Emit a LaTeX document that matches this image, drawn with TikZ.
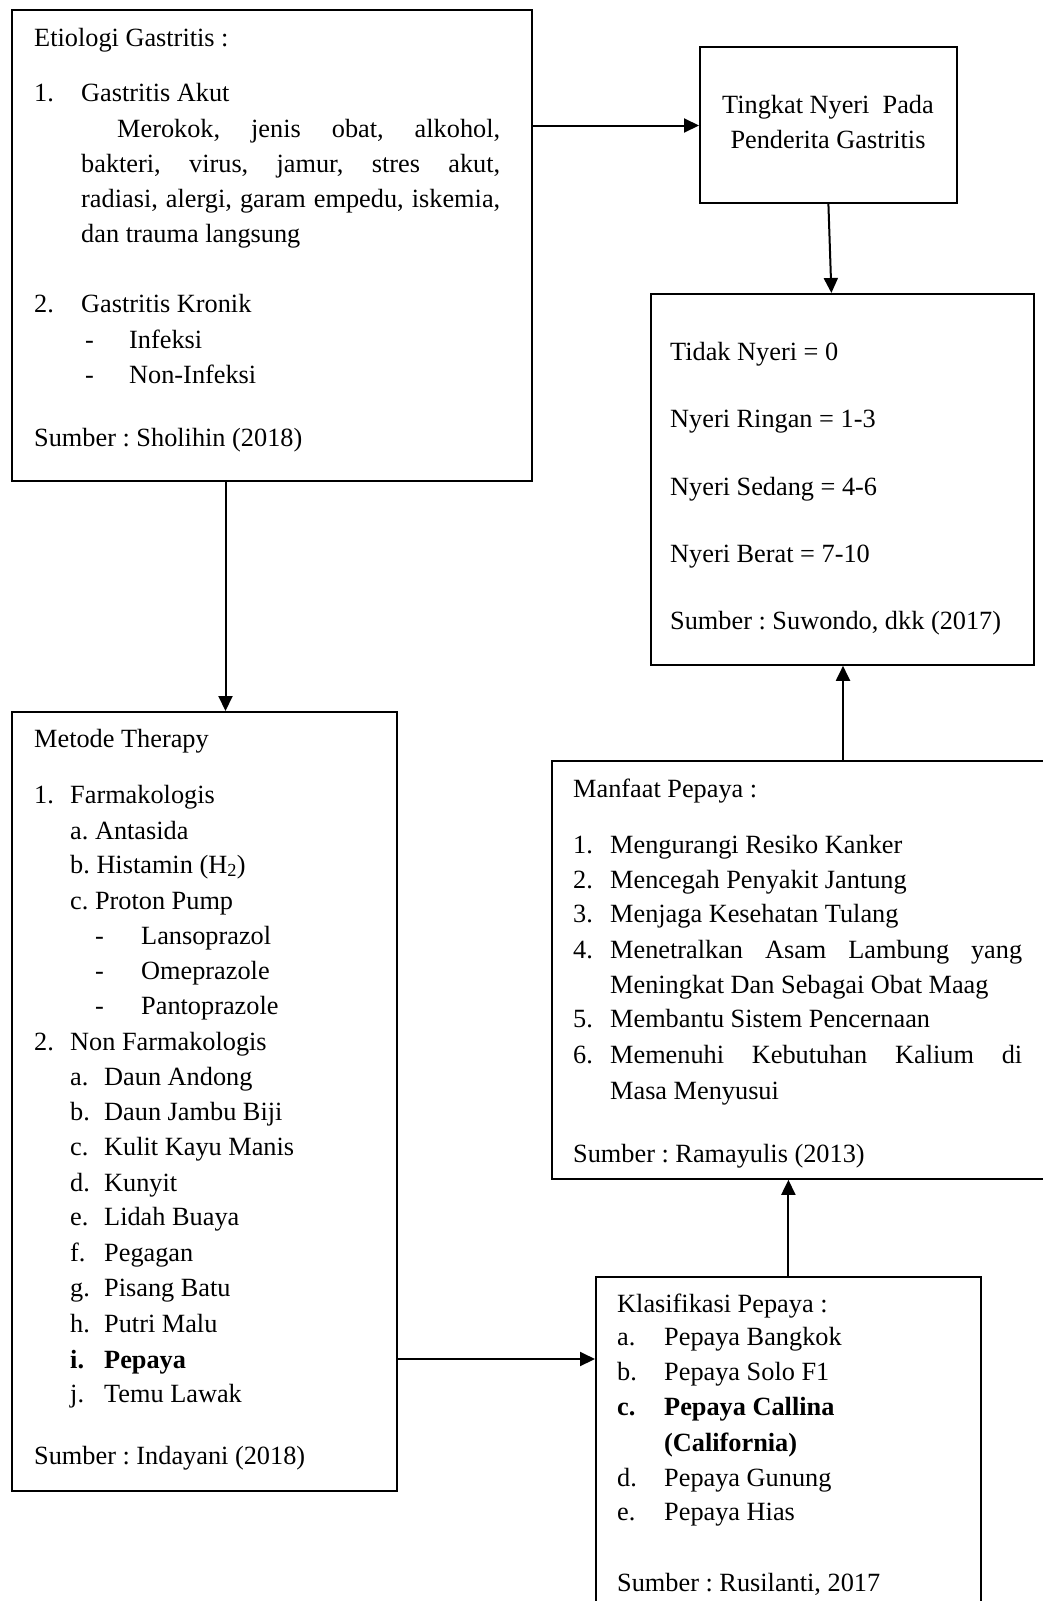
\documentclass[tikz,border=0pt]{standalone}
\usepackage{fontspec}
\setmainfont{Liberation Serif}
\usetikzlibrary{arrows.meta}
\frenchspacing
\newcommand\Ln[4]{\node[txt] (#1) at (#2,#3) {#4};}
\newcommand\Lc[4]{\node[txtc] (#1) at (#2,#3) {#4};}
\begin{document}
\begin{tikzpicture}[x=1pt,y=-1pt,
  box/.style={draw, line width=1.8pt, rectangle, inner sep=0pt, anchor=north west},
  txt/.style={anchor=base west, inner sep=0pt},
  txtc/.style={anchor=base, inner sep=0pt},
  arr/.style={line width=2pt, -{Triangle[length=15pt,width=14pt]}},
  font=\fontsize{26.3}{35}\selectfont\frenchspacing]
\useasboundingbox (0,0) rectangle (1043,1601);
% boxes
\node[box, minimum width=520pt, minimum height=471pt] (etio) at (11,9) {};
\node[box, minimum width=257pt, minimum height=156pt] (ting) at (699,46) {};
\node[box, minimum width=383pt, minimum height=371pt] (nyeri) at (650,293) {};
\node[box, minimum width=385pt, minimum height=779pt] (metode) at (11,711) {};
\node[box, minimum width=520pt, minimum height=418pt] (manfaat) at (551,760) {};
\node[box, minimum width=385pt, minimum height=360pt] (klas) at (595,1276) {};
% Etiologi text
\Ln{e0}{34}{46}{Etiologi Gastritis :}
\Ln{e1n}{34}{101}{1.}
\Ln{e1}{81}{101}{Gastritis Akut}
\Ln{e2}{117}{137}{\makebox[383pt][s]{Merokok, jenis obat, alkohol,}}
\Ln{e3}{81}{172}{\makebox[419pt][s]{bakteri, virus, jamur, stres akut,}}
\Ln{e4}{81}{207}{\makebox[419pt][s]{radiasi, alergi, garam empedu, iskemia,}}
\Ln{e5}{81}{242}{dan trauma langsung}
\Ln{e6n}{34}{312}{2.}
\Ln{e6}{81}{312}{Gastritis Kronik}
\Ln{e7d}{85}{348}{-}
\Ln{e7}{129}{348}{Infeksi}
\Ln{e8d}{85}{383}{-}
\Ln{e8}{129}{383}{Non-Infeksi}
\Ln{e9}{34}{446}{Sumber : Sholihin (2018)}
% Tingkat
\Lc{t1}{828}{113}{Tingkat Nyeri\ \ Pada}
\Lc{t2}{828}{148}{Penderita Gastritis}
% Nyeri scale
\Ln{n1}{670}{360}{Tidak Nyeri = 0}
\Ln{n2}{670}{427}{Nyeri Ringan = 1-3}
\Ln{n3}{670}{495}{Nyeri Sedang = 4-6}
\Ln{n4}{670}{562}{Nyeri Berat = 7-10}
\Ln{n5}{670}{629}{Sumber : Suwondo, dkk (2017)}
% Metode
\Ln{m0}{34}{747}{Metode Therapy}
\Ln{m1n}{34}{803}{1.}
\Ln{m1}{70}{803}{Farmakologis}
\Ln{m2}{70}{839}{a. Antasida}
\Ln{m3}{70}{873}{b. Histamin (H\textsubscript{2})}
\Ln{m4}{70}{909}{c. Proton Pump}
\Ln{m5d}{95}{944}{-}
\Ln{m5}{141}{944}{Lansoprazol}
\Ln{m6d}{95}{979}{-}
\Ln{m6}{141}{979}{Omeprazole}
\Ln{m7d}{95}{1014}{-}
\Ln{m7}{141}{1014}{Pantoprazole}
\Ln{m8n}{34}{1050}{2.}
\Ln{m8}{70}{1050}{Non Farmakologis}
\Ln{ma}{70}{1085}{a.}\Ln{mat}{104}{1085}{Daun Andong}
\Ln{mb}{70}{1120}{b.}\Ln{mbt}{104}{1120}{Daun Jambu Biji}
\Ln{mc}{70}{1155}{c.}\Ln{mct}{104}{1155}{Kulit Kayu Manis}
\Ln{md}{70}{1191}{d.}\Ln{mdt}{104}{1191}{Kunyit}
\Ln{me}{70}{1225}{e.}\Ln{met}{104}{1225}{Lidah Buaya}
\Ln{mf}{70}{1261}{f.}\Ln{mft}{104}{1261}{Pegagan}
\Ln{mg}{70}{1296}{g.}\Ln{mgt}{104}{1296}{Pisang Batu}
\Ln{mh}{70}{1332}{h.}\Ln{mht}{104}{1332}{Putri Malu}
\Ln{mi}{70}{1368}{\textbf{i.}}\Ln{mit}{104}{1368}{\textbf{Pepaya}}
\Ln{mj}{70}{1402}{j.}\Ln{mjt}{104}{1402}{Temu Lawak}
\Ln{m9}{34}{1464}{Sumber : Indayani (2018)}
% Manfaat
\Ln{f0}{573}{797}{Manfaat Pepaya :}
\Ln{f1n}{573}{853}{1.}\Ln{f1}{610}{853}{Mengurangi Resiko Kanker}
\Ln{f2n}{573}{888}{2.}\Ln{f2}{610}{888}{Mencegah Penyakit Jantung}
\Ln{f3n}{573}{922}{3.}\Ln{f3}{610}{922}{Menjaga Kesehatan Tulang}
\Ln{f4n}{573}{958}{4.}\Ln{f4}{610}{958}{\makebox[412pt][s]{Menetralkan Asam Lambung yang}}
\Ln{f4b}{610}{993}{Meningkat Dan Sebagai Obat Maag}
\Ln{f5n}{573}{1027}{5.}\Ln{f5}{610}{1027}{Membantu Sistem Pencernaan}
\Ln{f6n}{573}{1063}{6.}\Ln{f6}{610}{1063}{\makebox[412pt][s]{Memenuhi Kebutuhan Kalium di}}
\Ln{f6b}{610}{1099}{Masa Menyusui}
\Ln{f7}{573}{1162}{Sumber : Ramayulis (2013)}
% Klasifikasi
\Ln{k0}{617}{1312}{Klasifikasi Pepaya :}
\Ln{ka}{617}{1345}{a.}\Ln{kat}{664}{1345}{Pepaya Bangkok}
\Ln{kb}{617}{1380}{b.}\Ln{kbt}{664}{1380}{Pepaya Solo F1}
\Ln{kc}{617}{1415}{\textbf{c.}}\Ln{kct}{664}{1415}{\textbf{Pepaya Callina}}
\Ln{kc2}{664}{1451}{\textbf{(California)}}
\Ln{kd}{617}{1486}{d.}\Ln{kdt}{664}{1486}{Pepaya Gunung}
\Ln{ke}{617}{1520}{e.}\Ln{ket}{664}{1520}{Pepaya Hias}
\Ln{k9}{617}{1591}{Sumber : Rusilanti, 2017}
% connectors
\coordinate (c1) at (0,125.5);
\coordinate (c2) at (225.5,0);
\coordinate (c3) at (843,0);
\coordinate (c4) at (0,1359);
\draw[arr] (etio.east |- c1) -- (ting.west |- c1);
\draw[arr] (ting.south) -- ([xshift=3pt]ting.south |- nyeri.north);
\draw[arr] (etio.south -| c2) -- (metode.north -| c2);
\draw[arr] (manfaat.north -| c3) -- (nyeri.south -| c3);
\draw[arr] (metode.east |- c4) -- (klas.west |- c4);
\draw[arr] (klas.north) -- (klas.north |- manfaat.south);
\end{tikzpicture}
\end{document}
